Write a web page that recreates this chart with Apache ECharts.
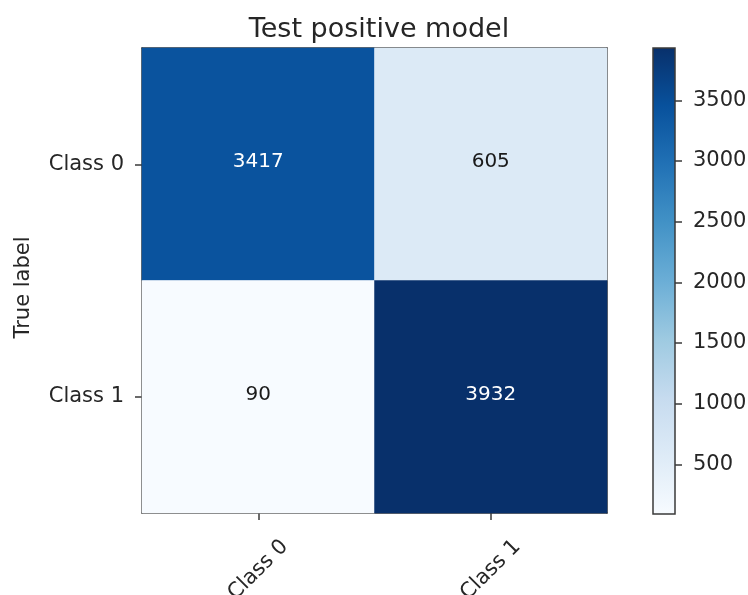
<!DOCTYPE html>
<html>
<head>
<meta charset="utf-8">
<script src="https://cdn.jsdelivr.net/npm/echarts@6/dist/echarts.min.js"></script>
<style>
  html, body { margin: 0; padding: 0; background: #fff; }
  #chart { width: 748px; height: 595px; }
</style>
</head>
<body>
<div id="chart"></div>
<script>
// Confusion matrix: rows are true labels, columns are predicted labels
const classes = ['Class 0', 'Class 1'];
const row0 = [3417, 605];
const row1 = [90, 3932];
const colorbarTicks = [500, 1000, 1500, 2000, 2500, 3000, 3500];
const blues = ['#f7fbff', '#deebf7', '#c6dbef', '#9ecae1', '#6baed6', '#4292c6', '#2171b5', '#08519c', '#08306b'];

const matrix = [row0, row1];
const flat = row0.concat(row1);
const vMin = Math.min(...flat);
const vMax = Math.max(...flat);
const thresh = vMax / 2;

const cells = [];
matrix.forEach((row, i) => {
  row.forEach((v, j) => {
    cells.push({
      value: [j, i, v],
      label: { color: v > thresh ? '#ffffff' : '#1a1a1a' }
    });
  });
});

const font = 'DejaVu Sans';
const ink = '#262626';
const frame = '#3a3a3a';

const chart = echarts.init(document.getElementById('chart'), null, { renderer: 'canvas' });

const gradientStops = blues.map((c, k) => ({ offset: k / (blues.length - 1), color: c }));

chart.setOption({
  animation: false,
  backgroundColor: '#fff',
  title: {
    text: 'Test positive model',
    left: 374,
    textAlign: 'center',
    top: 11,
    textStyle: { fontFamily: font, fontSize: 27, fontWeight: 'normal', color: ink }
  },
  grid: [
    { left: 142, top: 48, width: 465, height: 465, outerBoundsMode: 'none', containLabel: false },
    { left: 653, top: 48, width: 22, height: 466, outerBoundsMode: 'none', containLabel: false }
  ],
  xAxis: [
    {
      type: 'category', gridIndex: 0, data: classes, position: 'bottom',
      axisLine: { show: true, lineStyle: { color: frame, width: 1.5 } },
      axisTick: { show: true, alignWithLabel: true, length: 7, lineStyle: { color: frame, width: 1.5 } },
      axisLabel: {
        rotate: 45, align: 'center', verticalAlign: 'middle', margin: 57,
        fontFamily: font, fontSize: 21, color: ink
      },
      splitLine: { show: false }
    },
    {
      type: 'category', gridIndex: 0, data: classes, position: 'top',
      axisLine: { show: true, lineStyle: { color: frame, width: 1.5 } },
      axisTick: { show: false }, axisLabel: { show: false }
    },
    {
      type: 'category', gridIndex: 1, data: ['bar'], show: false
    }
  ],
  yAxis: [
    {
      type: 'category', gridIndex: 0, data: classes, inverse: true, position: 'left',
      name: 'True label', nameLocation: 'middle', nameGap: 108, nameRotate: 90,
      nameTextStyle: { fontFamily: font, fontSize: 21, color: ink, padding: [0, 14, 0, 0] },
      axisLine: { show: true, lineStyle: { color: frame, width: 1.5 } },
      axisTick: { show: true, alignWithLabel: true, length: 7, lineStyle: { color: frame, width: 1.5 } },
      axisLabel: { margin: 18, fontFamily: font, fontSize: 21, color: ink },
      splitLine: { show: false }
    },
    {
      type: 'category', gridIndex: 0, data: classes, inverse: true, position: 'right',
      axisLine: { show: true, lineStyle: { color: frame, width: 1.5 } },
      axisTick: { show: false }, axisLabel: { show: false }
    },
    {
      type: 'value', gridIndex: 1, position: 'right', min: vMin, max: vMax,
      axisLine: { show: false },
      axisTick: { show: true, length: 7, customValues: colorbarTicks, lineStyle: { color: frame, width: 1.5 } },
      axisLabel: {
        margin: 18, customValues: colorbarTicks, fontFamily: font, fontSize: 21, color: ink,
        formatter: function (v) { return String(v); }
      },
      splitLine: { show: false }
    }
  ],
  visualMap: {
    show: false, type: 'continuous', seriesIndex: 0, dimension: 2,
    min: vMin, max: vMax, inRange: { color: blues }
  },
  series: [
    {
      type: 'heatmap', xAxisIndex: 0, yAxisIndex: 0, data: cells,
      label: { show: true, fontFamily: font, fontSize: 20, offset: [0, -2] },
      itemStyle: { borderWidth: 0 },
      emphasis: { disabled: true }
    },
    {
      type: 'custom', xAxisIndex: 2, yAxisIndex: 2,
      data: [[0, vMin, vMax]],
      renderItem: function (params, api) {
        const lo = api.coord([0, api.value(1)]);
        const hi = api.coord([0, api.value(2)]);
        const w = api.size([1, 0])[0];
        return {
          type: 'rect',
          shape: { x: lo[0] - w / 2, y: hi[1], width: w, height: lo[1] - hi[1] },
          style: {
            fill: new echarts.graphic.LinearGradient(0, 1, 0, 0, gradientStops),
            stroke: frame, lineWidth: 1.5
          }
        };
      },
      silent: true
    }
  ]
});
</script>
</body>
</html>
